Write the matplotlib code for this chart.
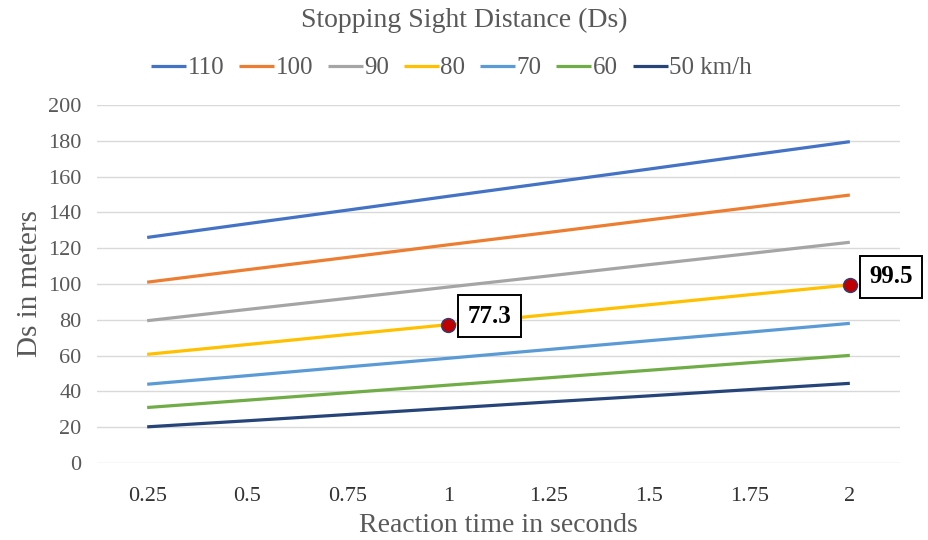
import matplotlib.pyplot as plt

plt.rcParams['font.family'] = ['Liberation Serif', 'DejaVu Serif']

# reaction time categories (s)
times = ['0.25', '0.5', '0.75', '1', '1.25', '1.5', '1.75', '2']

# stopping sight distance (m) per design speed
ds_110 = [126.0, 133.7, 141.3, 149.0, 156.6, 164.2, 171.9, 179.5]
ds_100 = [101.0, 108.0, 114.9, 121.9, 128.8, 135.8, 142.7, 149.7]
ds_90 = [79.5, 85.8, 92.0, 98.3, 104.5, 110.8, 117.0, 123.3]
ds_80 = [60.7, 66.2, 71.8, 77.3, 82.9, 88.4, 94.0, 99.5]
ds_70 = [44.0, 48.8, 53.7, 58.5, 63.4, 68.3, 73.1, 78.0]
ds_60 = [31.0, 35.1, 39.3, 43.5, 47.6, 51.8, 56.0, 60.1]
ds_50 = [20.2, 23.6, 27.1, 30.6, 34.1, 37.5, 41.0, 44.5]

labels = ['110', '100', '90', '80', '70', '60', '50 km/h']
colors = ['#4472C4', '#ED7D31', '#A5A5A5', '#FFC000', '#5B9BD5', '#70AD47', '#264478']
series = [ds_110, ds_100, ds_90, ds_80, ds_70, ds_60, ds_50]

# highlighted points on the 80 km/h line (category index, value)
marks = [(3, 77.3), (7, 99.5)]

fig = plt.figure(figsize=(9.29, 5.4), dpi=100)
ax = fig.add_axes([0.1044, 0.1426, 0.8644, 0.663])

x = list(range(len(times)))
for vals, lab, col in zip(series, labels, colors):
    ax.plot(x, vals, color=col, lw=2.3, label=lab, solid_capstyle='butt')

for i, v in marks:
    ax.plot(i, v, 'o', ms=10, mfc='#C00000', mec='#2F3E7A', mew=1, zorder=5)
    ax.annotate(f'{v}', (i, v), xytext=(14, 6), textcoords='offset points',
                fontsize=18, fontweight='bold', va='center', ha='left',
                bbox=dict(boxstyle='square,pad=0.38', fc='white', ec='black', lw=1.4),
                zorder=6)

ax.set_xlim(-0.5, 7.5)
ax.set_ylim(0, 200)
ax.set_yticks(range(0, 201, 20))
ax.set_xticks(x)
ax.set_xticklabels(times)
ax.grid(axis='y', color='#D9D9D9', lw=1)
ax.set_axisbelow(True)
for s in ax.spines.values():
    s.set_visible(False)
ax.tick_params(axis='both', length=0, labelsize=16, colors='#595959', pad=11)
ax.tick_params(axis='x', labelcolor='#333333', pad=17)

ax.set_xlabel('Reaction time in seconds', fontsize=20, color='#595959', labelpad=5)
ax.set_ylabel('Ds in meters', fontsize=21, color='#595959', labelpad=4)

fig.suptitle('Stopping Sight Distance (Ds)', y=0.985, fontsize=20, color='#595959')
fig.legend(loc='center', bbox_to_anchor=(0.486, 0.874), ncol=7, frameon=False,
           fontsize=18, handlelength=1.4, handletextpad=0.05, columnspacing=0.6,
           labelcolor='#595959')

fig.savefig('out.png', dpi=100)
